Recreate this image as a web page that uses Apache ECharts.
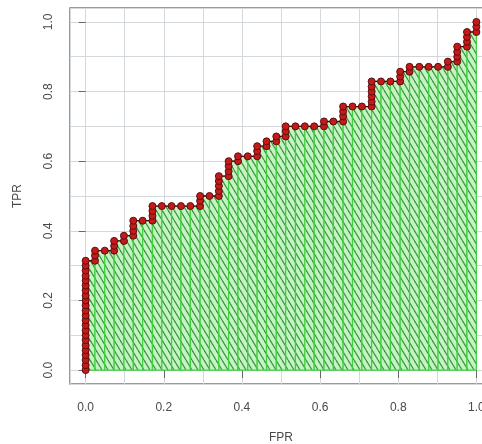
<!DOCTYPE html>
<html>
<head>
<meta charset="utf-8">
<script src="https://cdn.jsdelivr.net/npm/echarts@6/dist/echarts.min.js"></script>
<style>
  html, body { margin: 0; padding: 0; background: #fff; }
  #roc { width: 482px; height: 444px; }
</style>
</head>
<body>
<div id="roc"></div>
<script>
// ROC points [FPR, TPR], one per marker
const rocPoints = [
  [0, 0], [0, 0.014], [0, 0.029], [0, 0.043], [0, 0.057], [0, 0.071], [0, 0.086], [0, 0.1],
  [0, 0.114], [0, 0.129], [0, 0.143], [0, 0.157], [0, 0.171], [0, 0.186], [0, 0.2], [0, 0.214],
  [0, 0.229], [0, 0.243], [0, 0.257], [0, 0.271], [0, 0.286], [0, 0.3], [0, 0.314],
  [0.024, 0.314], [0.024, 0.329], [0.024, 0.343],
  [0.049, 0.343],
  [0.073, 0.343], [0.073, 0.357], [0.073, 0.371],
  [0.098, 0.371], [0.098, 0.386],
  [0.122, 0.386], [0.122, 0.4], [0.122, 0.414], [0.122, 0.429],
  [0.146, 0.429],
  [0.171, 0.429], [0.171, 0.443], [0.171, 0.457], [0.171, 0.471],
  [0.195, 0.471], [0.22, 0.471], [0.244, 0.471], [0.268, 0.471],
  [0.293, 0.471], [0.293, 0.486], [0.293, 0.5],
  [0.317, 0.5],
  [0.341, 0.5], [0.341, 0.514], [0.341, 0.529], [0.341, 0.543], [0.341, 0.557],
  [0.366, 0.557], [0.366, 0.571], [0.366, 0.586], [0.366, 0.6],
  [0.39, 0.6], [0.39, 0.614],
  [0.415, 0.614],
  [0.439, 0.614], [0.439, 0.629], [0.439, 0.643],
  [0.463, 0.643], [0.463, 0.657],
  [0.488, 0.657], [0.488, 0.671],
  [0.512, 0.671], [0.512, 0.686], [0.512, 0.7],
  [0.537, 0.7], [0.561, 0.7], [0.585, 0.7],
  [0.61, 0.7], [0.61, 0.714],
  [0.634, 0.714],
  [0.659, 0.714], [0.659, 0.729], [0.659, 0.743], [0.659, 0.757],
  [0.683, 0.757], [0.707, 0.757],
  [0.732, 0.757], [0.732, 0.771], [0.732, 0.786], [0.732, 0.8], [0.732, 0.814], [0.732, 0.829],
  [0.756, 0.829], [0.78, 0.829],
  [0.805, 0.829], [0.805, 0.843], [0.805, 0.857],
  [0.829, 0.857], [0.829, 0.871],
  [0.854, 0.871], [0.878, 0.871], [0.902, 0.871],
  [0.927, 0.871], [0.927, 0.886],
  [0.951, 0.886], [0.951, 0.9], [0.951, 0.914], [0.951, 0.929],
  [0.976, 0.929], [0.976, 0.943], [0.976, 0.957], [0.976, 0.971],
  [1, 0.971], [1, 0.986], [1, 1]
];
const tickValues = [0, 0.2, 0.4, 0.6, 0.8, 1.0];
const axisMin = -0.04;
const axisMax = 1.04;

// horizontal runs of the curve -> shaded rectangles under it
const steps = [];
for (let k = 1; k < rocPoints.length; k++) {
  const a = rocPoints[k - 1], b = rocPoints[k];
  if (b[0] > a[0]) steps.push([a[0], b[0], a[1]]);
}

// diagonal hatch tile
const hatch = document.createElement('canvas');
hatch.width = 6;
hatch.height = 10;
const hc = hatch.getContext('2d');
hc.fillStyle = '#c6f3c6';
hc.fillRect(0, 0, 6, 10);
hc.strokeStyle = '#389a38';
hc.lineWidth = 1.2;
[-6, 0, 6].forEach(x0 => {
  hc.beginPath();
  hc.moveTo(x0, 0);
  hc.lineTo(x0 + 6, 10);
  hc.stroke();
});

const labelFont = { color: '#4a4a4a', fontSize: 12, fontFamily: 'Liberation Sans, Arial, sans-serif' };
const gridLine = { show: true, lineStyle: { color: '#d3d8dc', width: 1 } };

const chart = echarts.init(document.getElementById('roc'));
chart.setOption({
  animation: false,
  grid: {
    left: 70, right: -10, top: 8, bottom: 60,
    show: true, borderColor: '#7a7a7a', borderWidth: 1.5,
    outerBoundsMode: 'none'
  },
  xAxis: [
    {
      type: 'value', min: axisMin, max: axisMax, splitNumber: 10, position: 'top',
      axisLine: { show: false }, axisTick: { show: false }, axisLabel: { show: false },
      splitLine: gridLine
    },
    {
      type: 'value', min: axisMin, max: axisMax, position: 'bottom',
      axisLine: { show: false },
      axisTick: { show: true, inside: false, length: 8, customValues: tickValues, lineStyle: { color: '#666' } },
      axisLabel: Object.assign({ customValues: tickValues, margin: 18, formatter: v => v.toFixed(1) }, labelFont),
      splitLine: { show: false },
      name: 'FPR', nameLocation: 'middle', nameGap: 48, nameTextStyle: labelFont
    }
  ],
  yAxis: [
    {
      type: 'value', min: axisMin, max: axisMax, splitNumber: 10, position: 'right',
      axisLine: { show: false }, axisTick: { show: false }, axisLabel: { show: false },
      splitLine: gridLine
    },
    {
      type: 'value', min: axisMin, max: axisMax, position: 'left',
      axisLine: { show: false },
      axisTick: { show: true, inside: false, length: 7, customValues: tickValues, lineStyle: { color: '#666' } },
      axisLabel: Object.assign({ customValues: tickValues, rotate: 90, margin: 15, formatter: v => v.toFixed(1) }, labelFont),
      splitLine: { show: false },
      name: 'TPR', nameLocation: 'middle', nameGap: 46, nameRotate: 90, nameTextStyle: labelFont
    }
  ],
  series: [
    {
      type: 'custom',
      xAxisIndex: 1,
      yAxisIndex: 1,
      data: steps,
      z: 2,
      renderItem: function (params, api) {
        const p0 = api.coord([api.value(0), api.value(2)]);
        const p1 = api.coord([api.value(1), 0]);
        return {
          type: 'rect',
          shape: { x: p0[0], y: p0[1], width: p1[0] - p0[0], height: p1[1] - p0[1] },
          style: { fill: { image: hatch, repeat: 'repeat' }, stroke: '#3fcf3f', lineWidth: 1.2 }
        };
      }
    },
    {
      type: 'line',
      xAxisIndex: 1,
      yAxisIndex: 1,
      data: rocPoints,
      z: 3,
      symbol: 'circle',
      symbolSize: 7,
      showAllSymbol: true,
      lineStyle: { color: '#2e0c0c', width: 1.3 },
      itemStyle: { color: '#c41a1a', borderColor: '#5a0e0e', borderWidth: 1 }
    }
  ]
});
</script>
</body>
</html>
